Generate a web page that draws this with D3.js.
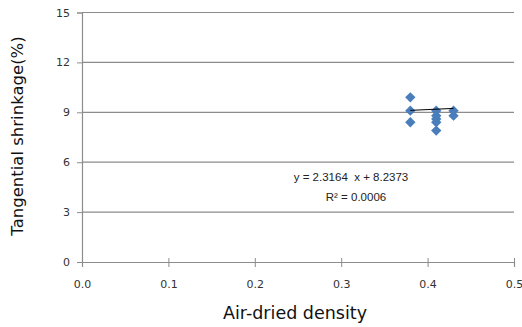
<!DOCTYPE html>
<html>
<head>
<meta charset="utf-8">
<script src="https://cdn.jsdelivr.net/npm/d3@7"></script>
<style>
  body { margin: 0; background: #fff; }
  text { font-family: "DejaVu Sans", sans-serif; }
</style>
</head>
<body>
<svg id="chart" width="522" height="327"></svg>
<script>
// data
const densityX = [0.38, 0.38, 0.38, 0.41, 0.41, 0.41, 0.41, 0.41, 0.43, 0.43];
const shrinkY  = [9.9, 9.1, 8.4, 9.1, 8.8, 8.6, 8.4, 7.9, 9.1, 8.8];
const xTicks = [0, 0.1, 0.2, 0.3, 0.4, 0.5];
const yTicks = [0, 3, 6, 9, 12, 15];
const slope = 2.3164, intercept = 8.2373;
const eqLabel = "y = 2.3164  x + 8.2373";
const r2Label = "R² = 0.0006";

const svg = d3.select("#chart");
const x = d3.scaleLinear().domain([0, 0.5]).range([82, 514]);
const y = d3.scaleLinear().domain([0, 15]).range([262, 12.5]);

// gridlines
svg.append("g").selectAll("line")
  .data(yTicks.filter(d => d > 0))
  .join("line")
  .attr("x1", x(0)).attr("x2", x(0.5))
  .attr("y1", d => y(d)).attr("y2", d => y(d))
  .attr("stroke", "#8c8c8c").attr("stroke-width", 1.2);

// y axis
const yAxis = svg.append("g")
  .attr("transform", `translate(${x(0)},0)`)
  .call(d3.axisLeft(y).tickValues(yTicks).tickSize(5).tickPadding(7).tickFormat(d3.format("d")));
yAxis.select(".domain").attr("stroke", "#8c8c8c").attr("stroke-width", 1.2);
yAxis.selectAll(".tick line").attr("stroke", "#8c8c8c");
yAxis.selectAll("text").attr("font-size", 11).attr("fill", "#333");

// x axis
const xAxis = svg.append("g")
  .attr("transform", `translate(0,${y(0)})`)
  .call(d3.axisBottom(x).tickValues(xTicks).tickSize(5).tickPadding(13).tickFormat(d3.format(".1f")));
xAxis.select(".domain").attr("stroke", "#8c8c8c").attr("stroke-width", 1.2);
xAxis.selectAll(".tick line").attr("stroke", "#8c8c8c").attr("y1", -4);
xAxis.selectAll("text").attr("font-size", 11).attr("fill", "#333");

// points
const pts = densityX.map((d, i) => [d, shrinkY[i]]);
svg.append("g").selectAll("path")
  .data(pts)
  .join("path")
  .attr("transform", d => `translate(${x(d[0])},${y(d[1])})`)
  .attr("d", d3.symbol(d3.symbolDiamond2, 68))
  .attr("fill", "#4a7ebb");

// trendline
const tx = d3.extent(densityX);
svg.append("line")
  .attr("x1", x(tx[0])).attr("y1", y(slope * tx[0] + intercept))
  .attr("x2", x(tx[1])).attr("y2", y(slope * tx[1] + intercept))
  .attr("stroke", "#000").attr("stroke-width", 1);

// equation
svg.append("text").attr("x", 351).attr("y", 181)
  .attr("text-anchor", "middle").attr("font-size", 11.5).attr("fill", "#222")
  .style("font-family", "'Liberation Sans', sans-serif")
  .style("white-space", "pre")
  .text(eqLabel);
svg.append("text").attr("x", 356).attr("y", 201)
  .attr("text-anchor", "middle").attr("font-size", 11.5).attr("fill", "#222")
  .style("font-family", "'Liberation Sans', sans-serif")
  .text(r2Label);

// axis titles
svg.append("text").attr("x", 295).attr("y", 319)
  .attr("text-anchor", "middle").attr("font-size", 17.5).attr("fill", "#111")
  .text("Air-dried density");
svg.append("text")
  .attr("transform", "translate(23,136) rotate(-90)")
  .attr("text-anchor", "middle").attr("font-size", 16.5).attr("fill", "#111")
  .text("Tangential shrinkage(%)");
</script>
</body>
</html>
